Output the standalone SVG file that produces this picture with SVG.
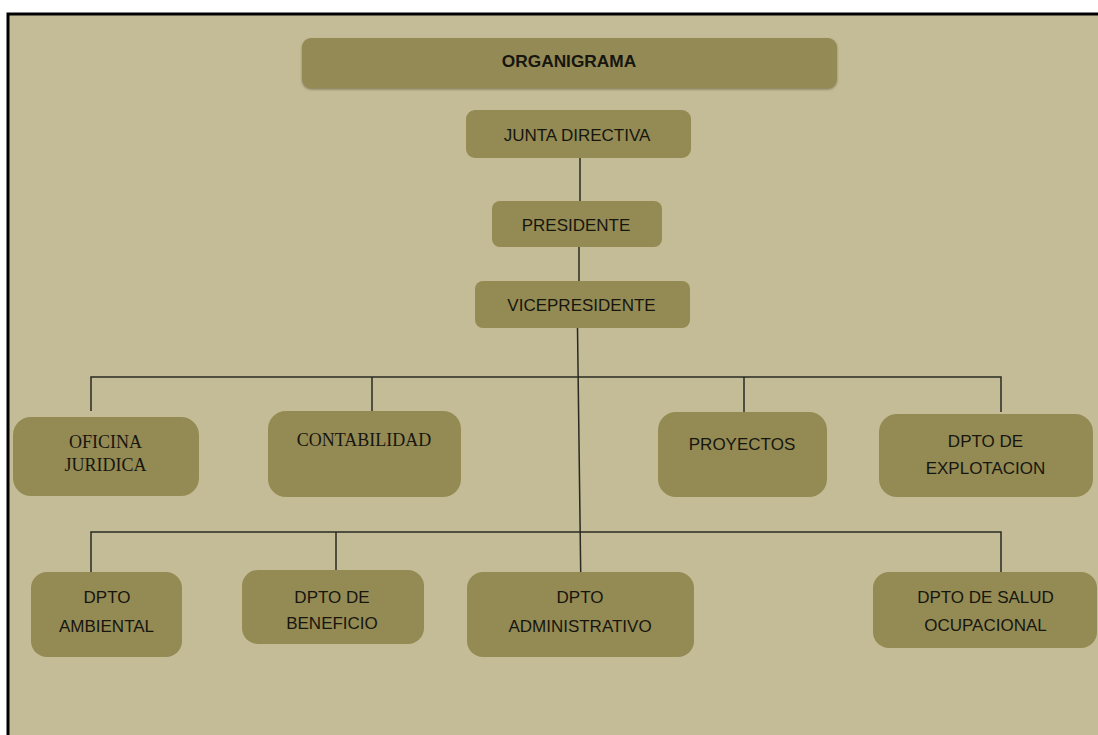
<svg xmlns="http://www.w3.org/2000/svg" width="1098" height="735" viewBox="0 0 1098 735">
<defs>
<filter id="sh" x="-5%" y="-10%" width="110%" height="130%">
<feDropShadow dx="0" dy="1.5" stdDeviation="1.2" flood-color="#5a5430" flood-opacity="0.6"/>
</filter>
</defs>
<style>
.box{fill:#948A54;}
.t{font-family:"Liberation Sans",Arial,sans-serif;font-size:17px;fill:#16160f;text-anchor:middle;}
.b{font-weight:bold;font-size:17.3px;}
.s{font-family:"Liberation Serif","Times New Roman",serif;font-size:18px;fill:#16160f;text-anchor:middle;}
.ln{stroke:#2a2a22;stroke-width:1.5;fill:none;}
</style>
<rect x="0" y="0" width="1098" height="735" fill="#ffffff"/>
<rect x="8" y="14" width="1090" height="721" fill="#C4BC97"/>
<path d="M8 735 V14 H1098" fill="none" stroke="#000" stroke-width="3"/>

<g id="connectors">
<line class="ln" x1="580" y1="158" x2="580" y2="201"/>
<line class="ln" x1="579" y1="247" x2="579" y2="281"/>
<line class="ln" x1="577.5" y1="328" x2="580.7" y2="572"/>
<polyline class="ln" points="91,411 91,377 1001,377 1001,412"/>
<line class="ln" x1="372" y1="377" x2="372" y2="411"/>
<line class="ln" x1="744" y1="377" x2="744" y2="412"/>
<polyline class="ln" points="91,572 91,532 1001,532 1001,572"/>
<line class="ln" x1="336" y1="532" x2="336" y2="570"/>
</g>

<g id="organigrama">
<rect class="box" x="302" y="38" width="535" height="50" rx="9" filter="url(#sh)"/>
<text class="t b" x="569" y="66.5">ORGANIGRAMA</text>
</g>
<g id="junta">
<rect class="box" x="466" y="110" width="225" height="48" rx="9"/>
<text class="t" x="577" y="140.5">JUNTA DIRECTIVA</text>
</g>
<g id="presidente">
<rect class="box" x="492" y="201" width="170" height="46" rx="8"/>
<text class="t" x="576" y="231">PRESIDENTE</text>
</g>
<g id="vicepresidente">
<rect class="box" x="475" y="281" width="215" height="47" rx="8"/>
<text class="t" x="581.5" y="311">VICEPRESIDENTE</text>
</g>

<g id="oficina">
<rect class="box" x="13" y="417" width="186" height="79" rx="18"/>
<text class="s" x="105.5" y="447.5">OFICINA</text>
<text class="s" x="105.5" y="471">JURIDICA</text>
</g>
<g id="contabilidad">
<rect class="box" x="268" y="411" width="193" height="86" rx="18"/>
<text class="s" x="364" y="446">CONTABILIDAD</text>
</g>
<g id="proyectos">
<rect class="box" x="658" y="412" width="169" height="85" rx="18"/>
<text class="t" x="742" y="450">PROYECTOS</text>
</g>
<g id="explotacion">
<rect class="box" x="879" y="414" width="214" height="83" rx="18"/>
<text class="t" x="985.5" y="446.5">DPTO DE</text>
<text class="t" x="985.5" y="473.5">EXPLOTACION</text>
</g>

<g id="ambiental">
<rect class="box" x="31" y="572" width="151" height="85" rx="16"/>
<text class="t" x="107" y="603">DPTO</text>
<text class="t" x="106.5" y="632">AMBIENTAL</text>
</g>
<g id="beneficio">
<rect class="box" x="242" y="570" width="182" height="74" rx="16"/>
<text class="t" x="332" y="603">DPTO DE</text>
<text class="t" x="332" y="629">BENEFICIO</text>
</g>
<g id="administrativo">
<rect class="box" x="467" y="572" width="227" height="85" rx="16"/>
<text class="t" x="580" y="603">DPTO</text>
<text class="t" x="580" y="632">ADMINISTRATIVO</text>
</g>
<g id="salud">
<rect class="box" x="873" y="572" width="224" height="76" rx="16"/>
<text class="t" x="985.5" y="603">DPTO DE SALUD</text>
<text class="t" x="985.5" y="631">OCUPACIONAL</text>
</g>
</svg>
